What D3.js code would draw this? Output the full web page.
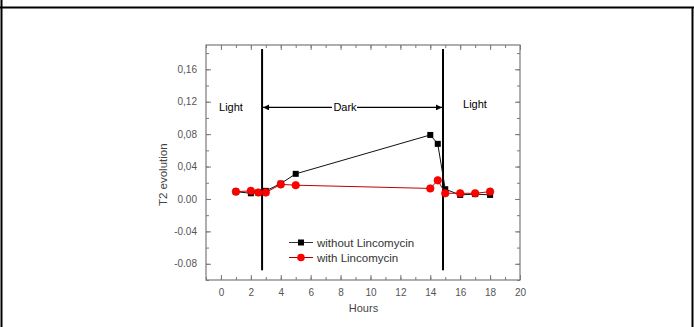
<!DOCTYPE html>
<html>
<head>
<meta charset="utf-8">
<script src="https://cdn.jsdelivr.net/npm/d3@7"></script>
<style>
  html, body { margin: 0; padding: 0; background: #fff; }
  svg { display: block; font-family: "Liberation Sans", Arial, sans-serif; }
</style>
</head>
<body>
<svg id="chart" width="694" height="327"></svg>
<script>
// Sampling times (hours)
const hours = [1, 2, 2.5, 3, 4, 5, 14, 14.5, 15, 16, 17, 18];
// T2 evolution, without and with Lincomycin
const withoutLinco = [0.009, 0.007, 0.008, 0.010, 0.019, 0.031, 0.079, 0.068, 0.012, 0.005, 0.006, 0.005];
const withLinco    = [0.009, 0.010, 0.008, 0.008, 0.018, 0.017, 0.013, 0.023, 0.007, 0.007, 0.007, 0.009];
// Light/dark transitions (hours)
const transitions = [2.75, 14.85];
// Axis ticks and their printed labels
const xTicks = [0, 2, 4, 6, 8, 10, 12, 14, 16, 18, 20];
const yTicks = [-0.08, -0.04, 0, 0.04, 0.08, 0.12, 0.16];
const yTickLabels = ["-0.08", "-0.04", "0.00", "0,04", "0,08", "0,12", "0,16"];
const seriesNames = ["without Lincomycin", "with Lincomycin"];

const svg = d3.select("#chart");

// Page frame
svg.append("line").attr("x1", 0).attr("x2", 694).attr("y1", 7.5).attr("y2", 7.5)
  .attr("stroke", "#000").attr("stroke-width", 2);
svg.append("line").attr("x1", 1.5).attr("x2", 1.5).attr("y1", 0).attr("y2", 327)
  .attr("stroke", "#000").attr("stroke-width", 2);
svg.append("line").attr("x1", 692.5).attr("x2", 692.5).attr("y1", 7).attr("y2", 327)
  .attr("stroke", "#000").attr("stroke-width", 2);

const x = d3.scaleLinear().domain([-1, 20]).range([206, 520]);
const y = d3.scaleLinear().domain([-0.1, 0.19]).range([280, 45]);

const axisColor = "#7a7a7a";
const g = svg.append("g");

// Plot box
g.append("rect").attr("x", 206).attr("y", 45).attr("width", 314).attr("height", 235)
  .attr("fill", "none").attr("stroke", axisColor).attr("stroke-width", 1.2);

const xMinor = d3.range(-1, 21, 1);
const yMinor = d3.range(-0.1, 0.19 + 1e-9, 0.02);

function styleAxis(sel) {
  sel.select(".domain").remove();
  sel.selectAll(".tick line").attr("stroke", axisColor);
  sel.selectAll(".tick text").attr("fill", "#555").style("font-size", "10px")
    .style("font-family", "Liberation Sans, Arial, sans-serif");
}

// Bottom axis (inward ticks)
g.append("g").attr("transform", "translate(0,280)")
  .call(d3.axisBottom(x).tickValues(xMinor).tickSize(-3).tickFormat(""))
  .call(styleAxis);
g.append("g").attr("transform", "translate(0,280)")
  .call(d3.axisBottom(x).tickValues(xTicks).tickSize(-5).tickPadding(9).tickFormat(d3.format("d")))
  .call(styleAxis);
// Top axis
g.append("g").attr("transform", "translate(0,45)")
  .call(d3.axisTop(x).tickValues(xMinor).tickSize(-3).tickFormat(""))
  .call(styleAxis);
g.append("g").attr("transform", "translate(0,45)")
  .call(d3.axisTop(x).tickValues(xTicks).tickSize(-5).tickFormat(""))
  .call(styleAxis);
// Left axis
g.append("g").attr("transform", "translate(206,0)")
  .call(d3.axisLeft(y).tickValues(yMinor).tickSize(-3).tickFormat(""))
  .call(styleAxis);
g.append("g").attr("transform", "translate(206,0)")
  .call(d3.axisLeft(y).tickValues(yTicks).tickSize(-5).tickPadding(9)
    .tickFormat((d, i) => yTickLabels[i]))
  .call(styleAxis);
// Right axis
g.append("g").attr("transform", "translate(520,0)")
  .call(d3.axisRight(y).tickValues(yMinor).tickSize(-3).tickFormat(""))
  .call(styleAxis);
g.append("g").attr("transform", "translate(520,0)")
  .call(d3.axisRight(y).tickValues(yTicks).tickSize(-5).tickFormat(""))
  .call(styleAxis);

// Axis titles
svg.append("text").attr("x", x(10) - 7).attr("y", 312).attr("text-anchor", "middle")
  .attr("fill", "#444").style("font-size", "11px").text("Hours");
svg.append("text").attr("transform", `translate(167,${y(0.02) - 8}) rotate(-90)`)
  .attr("text-anchor", "middle").attr("fill", "#444").style("font-size", "11.5px")
  .text("T2 evolution");

// Light/dark transitions
g.selectAll(".transition").data(transitions).enter().append("line")
  .attr("x1", d => x(d)).attr("x2", d => x(d))
  .attr("y1", y(0.185)).attr("y2", y(-0.088))
  .attr("stroke", "#000").attr("stroke-width", 2);

// Dark period arrows
const defs = svg.append("defs");
defs.append("marker").attr("id", "arrowhead").attr("viewBox", "0 0 10 10")
  .attr("refX", 10).attr("refY", 5).attr("markerWidth", 10).attr("markerHeight", 6)
  .attr("markerUnits", "userSpaceOnUse").attr("orient", "auto")
  .append("path").attr("d", "M0,0 L10,5 L0,10 Z").attr("fill", "#000");

const arrowY = y(0.113);
g.append("line").attr("x1", 332).attr("x2", x(transitions[0]) + 1)
  .attr("y1", arrowY).attr("y2", arrowY).attr("stroke", "#000").attr("stroke-width", 1.2)
  .attr("marker-end", "url(#arrowhead)");
g.append("line").attr("x1", 357).attr("x2", x(transitions[1]) - 1)
  .attr("y1", arrowY).attr("y2", arrowY).attr("stroke", "#000").attr("stroke-width", 1.2)
  .attr("marker-end", "url(#arrowhead)");
g.append("text").attr("x", 345).attr("y", arrowY + 4).attr("text-anchor", "middle")
  .style("font-size", "11px").attr("fill", "#000").text("Dark");
g.append("text").attr("x", 231).attr("y", y(0.108)).attr("text-anchor", "middle")
  .style("font-size", "11px").attr("fill", "#000").text("Light");
g.append("text").attr("x", 475).attr("y", y(0.112)).attr("text-anchor", "middle")
  .style("font-size", "11px").attr("fill", "#000").text("Light");

// Series
const line = d3.line().x(d => x(d[0])).y(d => y(d[1]));
const blackPts = hours.map((h, i) => [h, withoutLinco[i]]);
const redPts = hours.map((h, i) => [h, withLinco[i]]);

g.append("path").datum(blackPts).attr("d", line)
  .attr("fill", "none").attr("stroke", "#111").attr("stroke-width", 1);
g.selectAll(".sq").data(blackPts).enter().append("rect")
  .attr("x", d => x(d[0]) - 3).attr("y", d => y(d[1]) - 3)
  .attr("width", 6).attr("height", 6).attr("fill", "#000");

g.append("path").datum(redPts).attr("d", line)
  .attr("fill", "none").attr("stroke", "#c00000").attr("stroke-width", 1);
g.selectAll(".dot").data(redPts).enter().append("circle")
  .attr("cx", d => x(d[0])).attr("cy", d => y(d[1])).attr("r", 3.8)
  .attr("fill", "#ff0000").attr("stroke", "#e00000").attr("stroke-width", 0.6);

// Legend
const legend = g.append("g");
const legY = [242.5, 257.5];
legend.append("line").attr("x1", 289).attr("x2", 313).attr("y1", legY[0]).attr("y2", legY[0])
  .attr("stroke", "#333").attr("stroke-width", 1);
legend.append("rect").attr("x", 298).attr("y", legY[0] - 3).attr("width", 6).attr("height", 6)
  .attr("fill", "#000");
legend.append("line").attr("x1", 289).attr("x2", 313).attr("y1", legY[1]).attr("y2", legY[1])
  .attr("stroke", "#a00000").attr("stroke-width", 1);
legend.append("circle").attr("cx", 301).attr("cy", legY[1]).attr("r", 3.8).attr("fill", "#ff0000");
legend.selectAll("text").data(seriesNames).enter().append("text")
  .attr("x", 317).attr("y", (d, i) => legY[i] + 4)
  .style("font-size", "11.5px").attr("fill", "#333").text(d => d);
</script>
</body>
</html>
